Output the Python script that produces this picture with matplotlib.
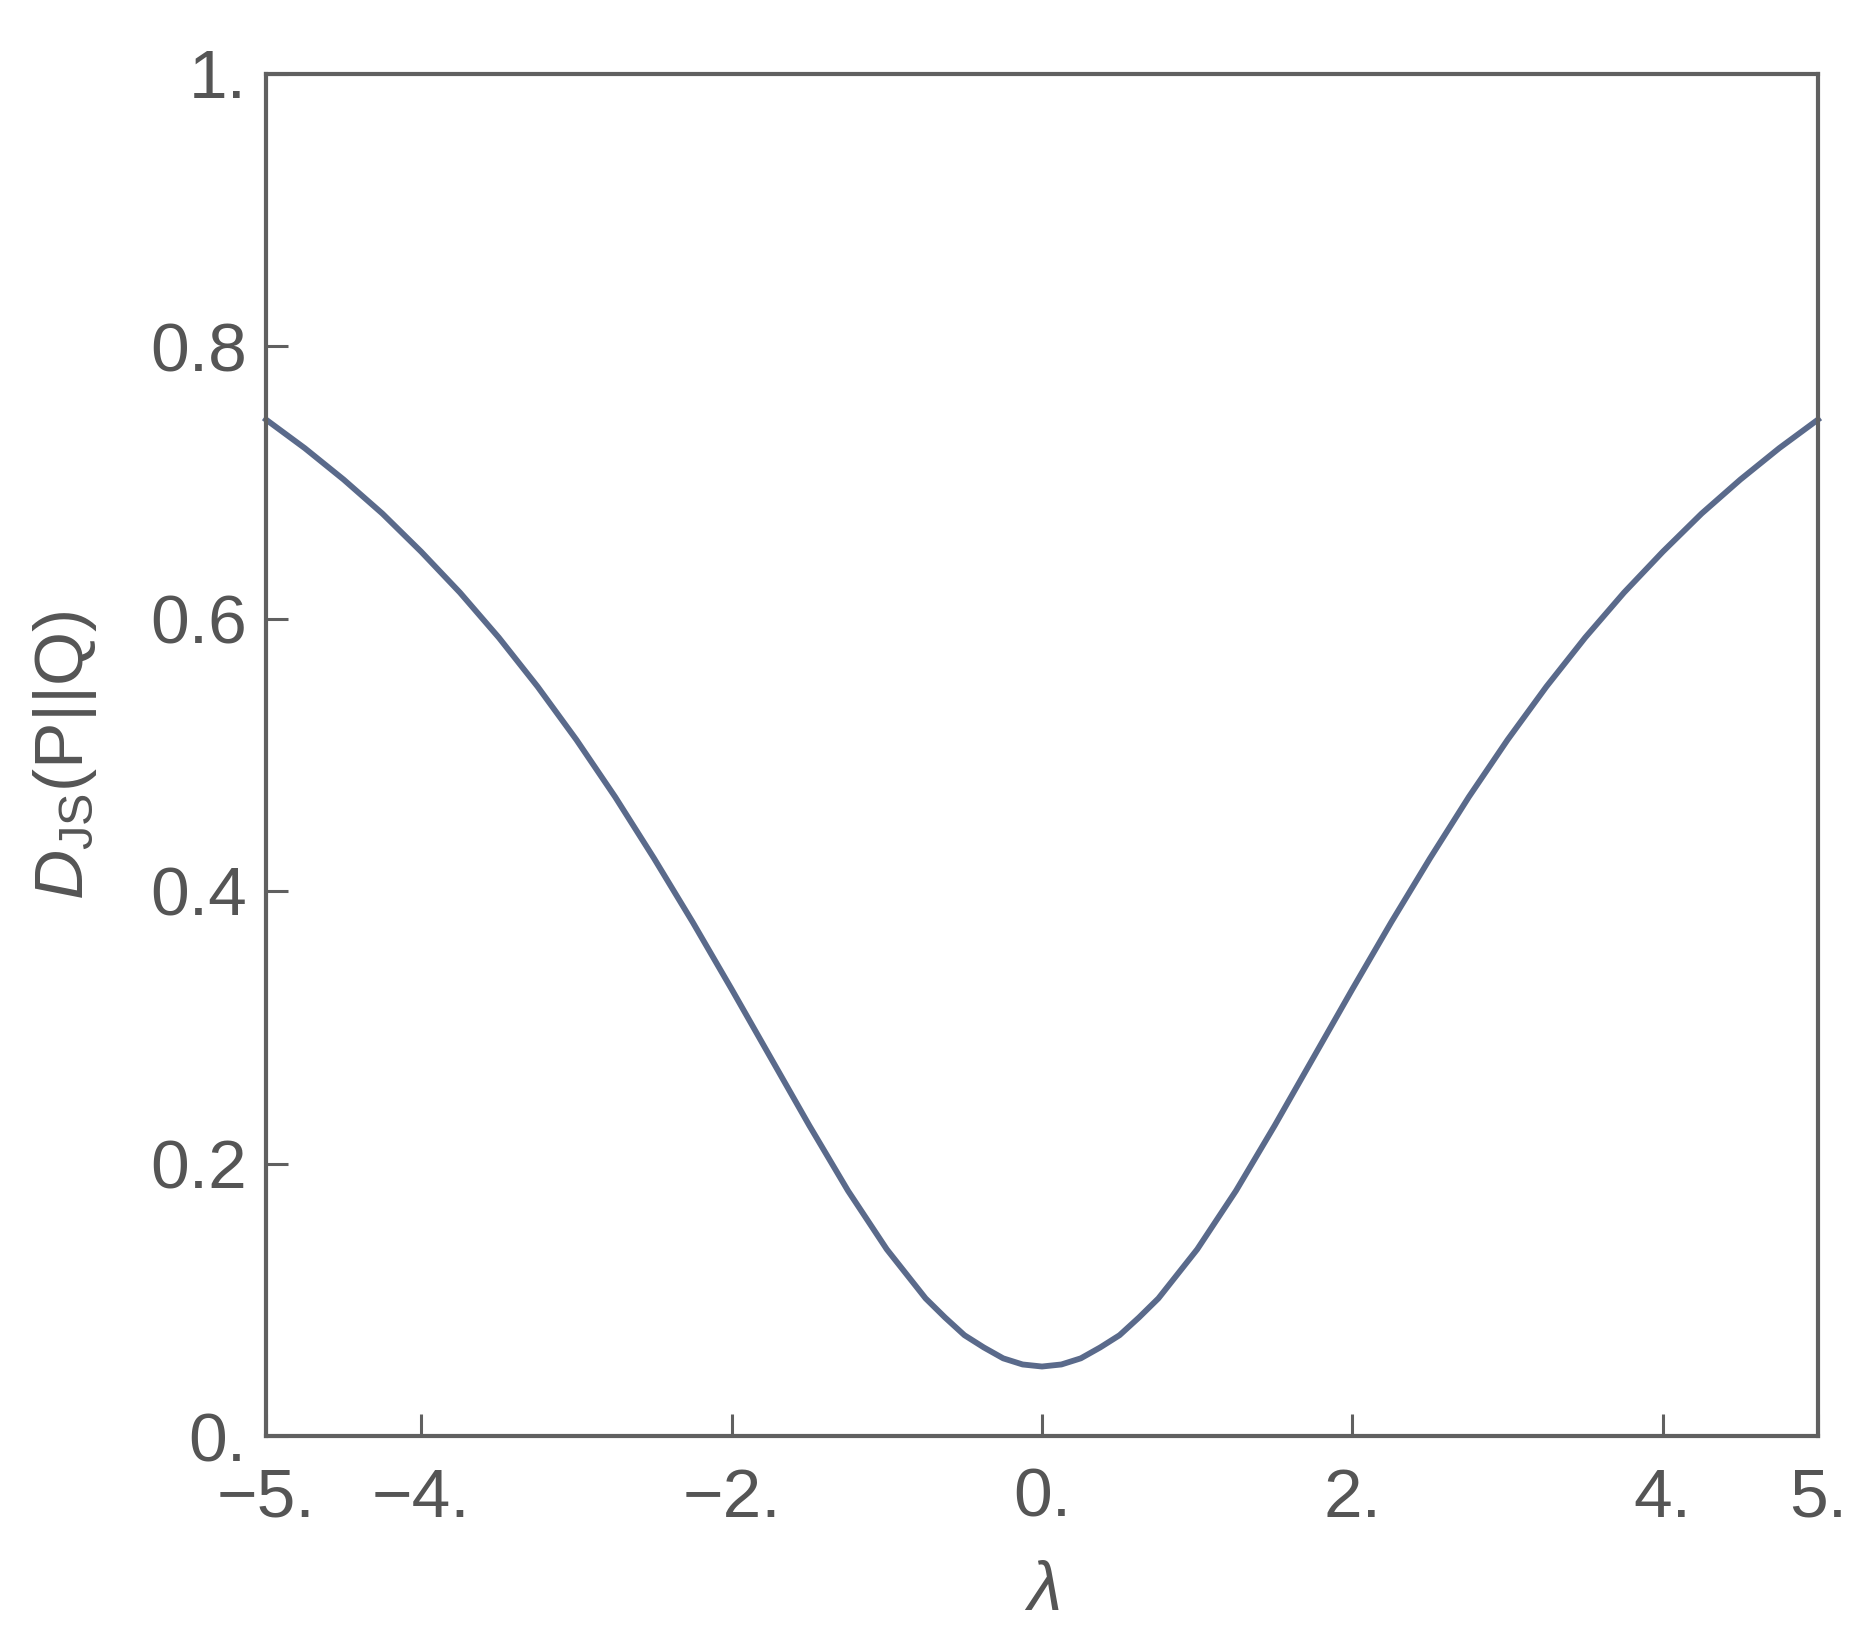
import matplotlib
matplotlib.use("Agg")
import matplotlib.pyplot as plt

# values (curve is symmetric around 0)
lam = [-5.0, -4.75, -4.5, -4.25, -4.0, -3.75, -3.5, -3.25, -3.0, -2.75,
       -2.5, -2.25, -2.0, -1.75, -1.5, -1.25, -1.0, -0.875, -0.75, -0.625,
       -0.5, -0.375, -0.25, -0.125, 0.0, 0.125, 0.25, 0.375, 0.5, 0.625,
       0.75, 0.875, 1.0, 1.25, 1.5, 1.75, 2.0, 2.25, 2.5, 2.75,
       3.0, 3.25, 3.5, 3.75, 4.0, 4.25, 4.5, 4.75, 5.0]
djs = [0.746, 0.725, 0.702, 0.677, 0.649, 0.619, 0.586, 0.550, 0.511, 0.469,
       0.424, 0.377, 0.328, 0.278, 0.228, 0.180, 0.137, 0.119, 0.101, 0.087,
       0.074, 0.065, 0.057, 0.0525, 0.051, 0.0525, 0.057, 0.065, 0.074, 0.087,
       0.101, 0.119, 0.137, 0.180, 0.228, 0.278, 0.328, 0.377, 0.424, 0.469,
       0.511, 0.550, 0.586, 0.619, 0.649, 0.677, 0.702, 0.725, 0.746]

xticks = [-5, -4, -2, 0, 2, 4, 5]
xtick_labels = ['\u22125.', '\u22124.', '\u22122.', '0.', '2.', '4.', '5.']
yticks = [0, 0.2, 0.4, 0.6, 0.8, 1.0]
ytick_labels = ['0.', '0.2', '0.4', '0.6', '0.8', '1.']

plt.rcParams['font.family'] = ['Liberation Sans', 'DejaVu Sans']
plt.rcParams['mathtext.fontset'] = 'custom'
plt.rcParams['mathtext.rm'] = 'Liberation Sans'
plt.rcParams['mathtext.it'] = 'Liberation Sans:italic'

txt = '#555555'
frame = '#606060'

fig = plt.figure(figsize=(18.64, 16.43), dpi=100)
ax = fig.add_axes([266/1864, 1 - 1436/1643, (1818-266)/1864, (1436-73.5)/1643])

ax.plot(lam, djs, color='#5a6a8b', linewidth=4.2, clip_on=False,
        solid_joinstyle='round')

ax.set_xlim(-5, 5)
ax.set_ylim(0, 1)
ax.set_xticks(xticks)
ax.set_xticklabels(xtick_labels)
ax.set_yticks(yticks)
ax.set_yticklabels(ytick_labels)

for s in ax.spines.values():
    s.set_color(frame)
    s.set_linewidth(3)

ax.tick_params(direction='in', length=16, width=2.2, color=frame,
               labelsize=50, labelcolor=txt)
ax.tick_params(axis='x', pad=22)
ax.tick_params(axis='y', pad=14)

fig.text(65/1864, 1 - 755/1643, r'$D_{\mathrm{JS}}$(P||Q)', rotation=90,
         ha='center', va='center', fontsize=50, color=txt)
fig.text(1042/1864, 1 - 1592/1643, r'$\lambda$', ha='center', va='center',
         fontsize=50, color=txt)

fig.savefig('out.png', dpi=100, facecolor='white')
